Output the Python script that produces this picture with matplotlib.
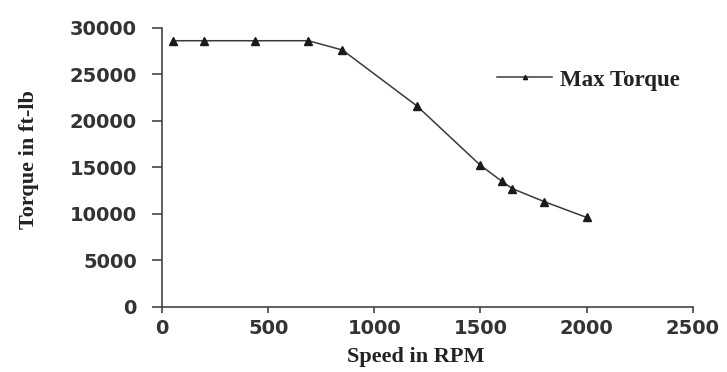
import matplotlib
matplotlib.use("Agg")
import matplotlib.pyplot as plt

# valeurs
speed_rpm = [50, 200, 440, 690, 850, 1200, 1500, 1600, 1650, 1800, 2000]
max_torque = [28600, 28600, 28600, 28600, 27600, 21600, 15200, 13500, 12700, 11300, 9600]

x_ticks = [0, 500, 1000, 1500, 2000, 2500]
y_ticks = [0, 5000, 10000, 15000, 20000, 25000, 30000]

fig = plt.figure(figsize=(7.27, 3.72), dpi=100)
ax = fig.add_axes([0.2228, 0.1755, 0.7302, 0.75])

ax.plot(speed_rpm, max_torque, color="#3a3a3a", lw=1.1, marker="^",
        markersize=5.5, markerfacecolor="#1a1a1a", markeredgecolor="#1a1a1a",
        label="Max Torque")

ax.set_xlim(0, 2500)
ax.set_ylim(0, 30000)
ax.set_xticks(x_ticks)
ax.set_yticks(y_ticks)

for s in ["top", "right"]:
    ax.spines[s].set_visible(False)
for s in ["left", "bottom"]:
    ax.spines[s].set_color("#444444")
    ax.spines[s].set_linewidth(1.2)

ax.tick_params(axis="y", length=7, width=1.2, color="#444444", pad=11)
ax.tick_params(axis="x", length=4, width=1.2, color="#444444", pad=5)
for lab in ax.get_xticklabels() + ax.get_yticklabels():
    lab.set_fontfamily("DejaVu Sans")
    lab.set_fontweight("bold")
    lab.set_fontsize(14)
    lab.set_color("#333333")

ax.set_xlabel("Speed in RPM", fontfamily="Liberation Serif", fontweight="bold",
              fontsize=16, color="#222222")
ax.set_ylabel("Torque in ft-lb", fontfamily="Liberation Serif", fontweight="bold",
              fontsize=16, color="#222222")
ax.yaxis.set_label_coords(-0.232, 0.526)
ax.xaxis.set_label_coords(0.478, -0.145)

leg = fig.legend(loc="center left", bbox_to_anchor=(497 / 727, 1 - 80 / 372),
                 frameon=False, borderpad=0, borderaxespad=0, handlelength=2.4,
                 handletextpad=0.35, markerscale=0.55,
                 prop={"family": "Liberation Serif", "weight": "bold", "size": 16.5})
for t in leg.get_texts():
    t.set_color("#222222")

fig.savefig("out.png", dpi=100)
